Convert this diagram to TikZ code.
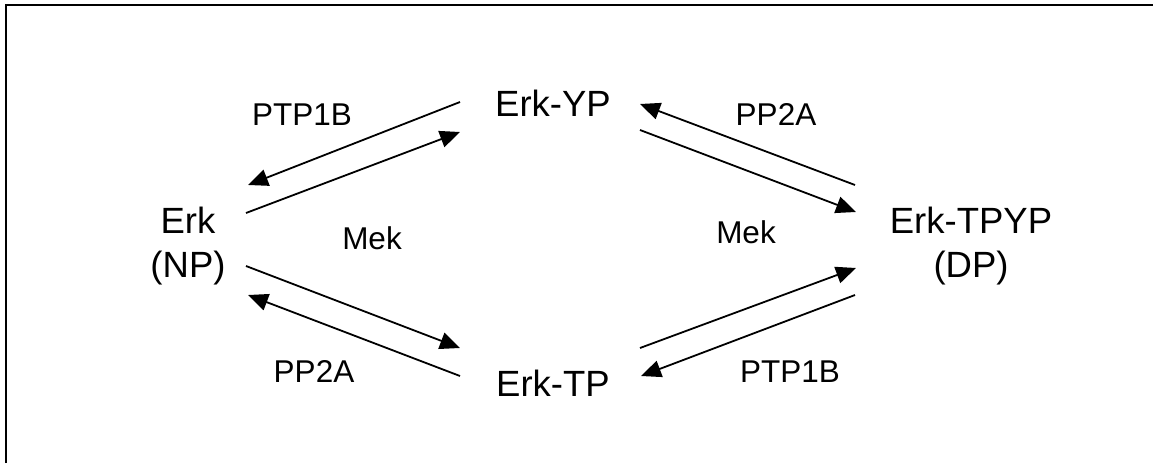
\documentclass[tikz,border=0pt]{standalone}
\usepackage{fontspec}
\setmainfont{Liberation Sans}
\usetikzlibrary{arrows.meta}

\tikzset{
  species/.style={inner sep=0pt,anchor=base,align=center,font=\fontsize{36.5}{44}\selectfont},
  enzyme/.style={inner sep=0pt,anchor=base,font=\fontsize{31.5}{36}\selectfont},
  conv/.style={line width=1.8pt,-{Triangle[length=20pt,width=17pt]}}
}

\begin{document}
\begin{tikzpicture}[x=1pt,y=-1pt]
  \path[use as bounding box] (0,0) rectangle (1153,463);
  % open frame, left and top edges only
  \draw[line width=1.6pt] (6,463) -- (6,5) -- (1153,5);

  % phosphorylation states (base = baseline of the last line)
  \node[species] (np) at (188,277) {Erk\\(NP)};
  \node[species] (yp) at (553,116) {Erk-YP};
  \node[species] (tp) at (553,396) {Erk-TP};
  \node[species] (dp) at (971,277) {Erk-TPYP\\(DP)};

  % kinase / phosphatase labels
  \node[enzyme] (ptpa) at (302,125) {PTP1B};
  \node[enzyme] (meka) at (372,249) {Mek};
  \node[enzyme] (ppa)  at (776,125) {PP2A};
  \node[enzyme] (mekb) at (746,243) {Mek};
  \node[enzyme] (ppb)  at (314,382) {PP2A};
  \node[enzyme] (ptpb) at (790,382) {PTP1B};

  % arrow ends, one pair of parallel arrows per edge
  \coordinate (yp-np-s) at (460,102);  \coordinate (yp-np-e) at (248,185);
  \coordinate (np-yp-s) at (246,213);  \coordinate (np-yp-e) at (460,132);
  \coordinate (dp-yp-s) at (855,185);  \coordinate (dp-yp-e) at (640,104);
  \coordinate (yp-dp-s) at (640,130);  \coordinate (yp-dp-e) at (856,212);
  \coordinate (np-tp-s) at (246,266);  \coordinate (np-tp-e) at (460,348);
  \coordinate (tp-np-s) at (460,376);  \coordinate (tp-np-e) at (248,295);
  \coordinate (tp-dp-s) at (640,348);  \coordinate (tp-dp-e) at (856,268);
  \coordinate (dp-tp-s) at (855,295);  \coordinate (dp-tp-e) at (641,376);

  \foreach \e in {yp-np,np-yp,dp-yp,yp-dp,np-tp,tp-np,tp-dp,dp-tp}
    \draw[conv] (\e-s) -- (\e-e);
\end{tikzpicture}
\end{document}
